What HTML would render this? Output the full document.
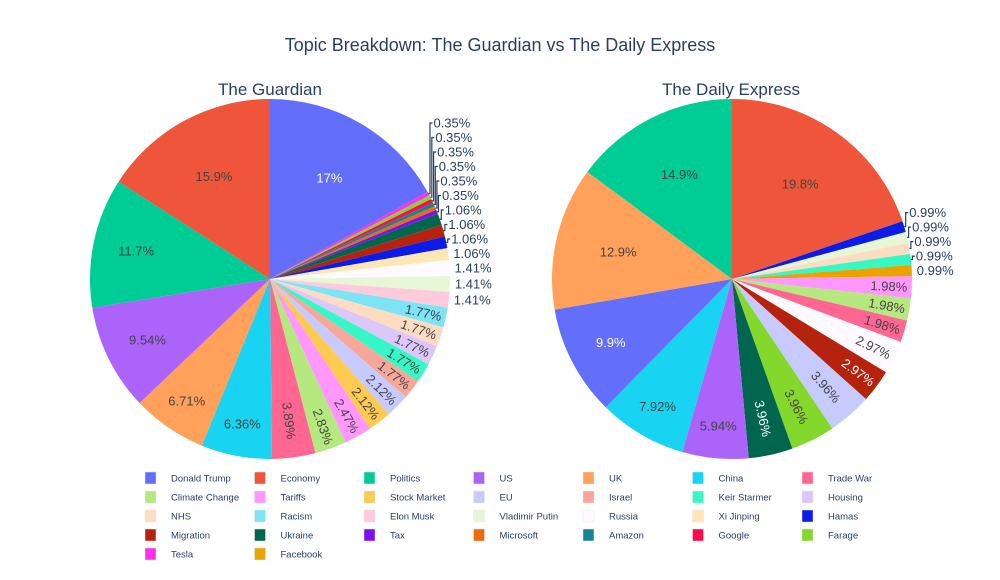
<!DOCTYPE html>
<html><head><meta charset="utf-8"><style>
body{margin:0;background:#fff;}
svg{display:block;font-family:"Liberation Sans",Arial,sans-serif;}
</style></head><body>
<svg id="chart" width="1000" height="580" viewBox="0 0 1000 580">
<text x="500" y="51" text-anchor="middle" font-size="18" fill="#2a3f5f">Topic Breakdown: The Guardian vs The Daily Express</text>
<text x="270" y="95" text-anchor="middle" font-size="17" fill="#2a3f5f">The Guardian</text>
<text x="731" y="95" text-anchor="middle" font-size="17" fill="#2a3f5f">The Daily Express</text>
<g id="pies"></g>
<g id="legend"></g>
</svg>
<script>
const legendLabels = ["Donald Trump","Economy","Politics","US","UK","China","Trade War","Climate Change","Tariffs","Stock Market","EU","Israel","Keir Starmer","Housing","NHS","Racism","Elon Musk","Vladimir Putin","Russia","Xi Jinping","Hamas","Migration","Ukraine","Tax","Microsoft","Amazon","Google","Farage","Tesla","Facebook"];
const legendColors = ["#636efa","#EF553B","#00cc96","#ab63fa","#FFA15A","#19d3f3","#FF6692","#B6E880","#FF97FF","#FECB52","#c6cafd","#f7a799","#36f8c6","#dcc7fb","#fedcc2","#7de4f5","#ffcadb","#e8f6d8","#fffaff","#fee6b5","#0b1be8","#b5220d","#00664e","#7c10f0","#f06a0c","#168491","#fe0b4f","#84d82c","#ff2ff0","#eba300"];
// slices listed clockwise from 12 o'clock
const guardianCategories = ["Donald Trump","Tesla","Farage","Google","Amazon","Microsoft","Tax","Ukraine","Migration","Hamas","Xi Jinping","Russia","Vladimir Putin","Elon Musk","Racism","NHS","Housing","Keir Starmer","Israel","EU","Stock Market","Tariffs","Climate Change","Trade War","China","UK","US","Politics","Economy"];
const guardianValues = [48,1,1,1,1,1,1,3,3,3,3,4,4,4,5,5,5,5,5,6,6,7,8,11,18,19,27,33,45];
const expressCategories = ["Economy","Hamas","Vladimir Putin","NHS","Keir Starmer","Facebook","Tariffs","Climate Change","Trade War","Russia","Migration","EU","Farage","Ukraine","US","China","Donald Trump","UK","Politics"];
const expressValues = [20,1,1,1,1,1,2,2,2,3,3,4,4,4,6,8,10,13,15];

const NS="http://www.w3.org/2000/svg";
const pies=document.getElementById('pies');
function mk(tag,attrs,parent){const e=document.createElementNS(NS,tag);for(const k in attrs)e.setAttribute(k,attrs[k]);parent.appendChild(e);return e;}
function colorOf(l){return legendColors[legendLabels.indexOf(l)];}
function isLight(h){const r=parseInt(h.substr(1,2),16),g=parseInt(h.substr(3,2),16),b=parseInt(h.substr(5,2),16);return (r*299+g*587+b*114)/1000>=128;}
function fmt(p){if(p<1)return p.toFixed(2)+'%';let t=p.toPrecision(3);if(t.indexOf('.')>=0)t=t.replace(/\.?0+$/,'');return t+'%';}
function pt(cx,cy,r,deg){const a=deg*Math.PI/180;return [cx+r*Math.sin(a),cy-r*Math.cos(a)];}

function drawPie(cats,vals,cx,cy,R,name){
  const g=mk('g',{},pies);
  
  
  const total=vals.reduce((a,b)=>a+b,0);
  let acc=0;const outside=[];
  cats.forEach((c,i)=>{
    const a0=acc/total*360;acc+=vals[i];const a1=acc/total*360;
    const p0=pt(cx,cy,R,a0),p1=pt(cx,cy,R,a1);
    const large=(a1-a0)>180?1:0;
    const path=mk('path',{d:`M${cx},${cy}L${p0[0]},${p0[1]}A${R},${R} 0 ${large} 1 ${p1[0]},${p1[1]}Z`,fill:colorOf(c),stroke:'#fff','stroke-width':0},g);
    
    
    const pct=vals[i]/total*100, mid=(a0+a1)/2, txt=fmt(pct);
    const tc=isLight(colorOf(c))?'#444':'#fff';
    if(pct>=5){
      const f=pct>=12?0.65:(pct>=9?0.76:0.82);
      const p=pt(cx,cy,R*f,mid);
      const t=mk('text',{x:p[0],y:p[1]+4.5,'text-anchor':'middle','font-size':13,fill:tc},g);t.textContent=txt;
      
      
    }else if(pct>=1.5){
      const rr=pct>=3?R-37:R-23;
      const p=pt(cx,cy,rr,mid);
      const rot=mid<180?mid-90:mid-270;
      const t=mk('text',{x:p[0],y:p[1]+4.5,'text-anchor':'middle','font-size':13,fill:tc,transform:`rotate(${rot} ${p[0]} ${p[1]})`},g);t.textContent=txt;
      
      
    }else{
      const p=pt(cx,cy,R,mid);outside.push({x:p[0],y:p[1],txt});
    }
  });
  outside.sort((a,b)=>b.y-a.y);
  let prev=1e9;
  outside.forEach(o=>{
    const y=Math.min(o.y,prev-14.5);prev=y;
    const lx=o.x+4;
    if(o.y-y>2){
      const l=mk('polyline',{points:`${o.x},${o.y} ${o.x+1.5},${o.y} ${o.x+1.5},${y} ${lx},${y}`,fill:'none',stroke:'#2a3f5f','stroke-width':1.2},g);
      
      
    }
    const t=mk('text',{x:lx+1,y:y+4.5,'font-size':13,fill:'#2a3f5f'},g);t.textContent=o.txt;
    
    
  });
}
drawPie(guardianCategories,guardianValues,270,279,180,'guardian-pie');
drawPie(expressCategories,expressValues,732,279,180,'express-pie');

const lg=document.getElementById('legend');
legendLabels.forEach((l,i)=>{
  const col=i%7,row=Math.floor(i/7);
  const x=145+col*109.5,y=478+row*19;
  const item=mk('g',{},lg);
  
  
  const r=mk('rect',{x:x,y:y-6,width:11,height:12,fill:legendColors[i],stroke:'#e8e8e8','stroke-width':0.5},item);
  
  
  const t=mk('text',{x:x+26,y:y+3.5,'font-size':9.5,fill:'#2a3f5f'},item);t.textContent=l;
  
  
});
</script>
</body></html>
